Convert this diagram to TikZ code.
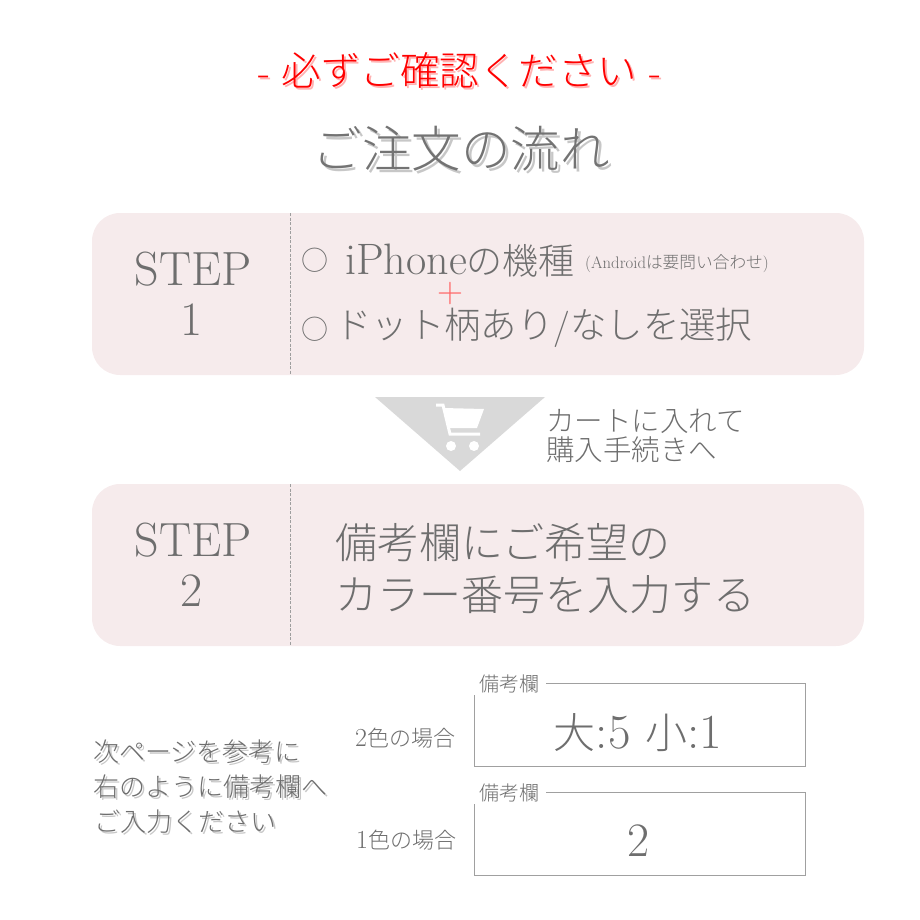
\documentclass[tikz,border=0pt]{standalone}
\usepackage{fontspec}
\newfontfamily\jp{Noto Sans CJK JP Light}
\definecolor{tx}{HTML}{6E6E6E}
\definecolor{pinkbox}{HTML}{F6EBEC}
\definecolor{tri}{HTML}{D9D9D9}
\definecolor{fr}{HTML}{A0A0A0}
\tikzset{
  fs/.style={font=\fontsize{#1}{#1}\selectfont},
  lab/.style={inner sep=0pt,text=tx},
  lft/.style={lab,anchor=west},
  shade2/.style={text=black!22},
  panel/.style={fill=pinkbox,rounded corners=28pt,minimum width=772pt,minimum height=162pt,inner sep=0pt},
  divider/.style={draw=black!38,dash pattern=on 3pt off 1.5pt,line width=.8pt},
  field/.style={draw=fr,line width=.9pt},
}
\newcommand\headline{{\rmfamily -}\hspace{11pt}{\jp 必ずご確認ください}\hspace{12pt}{\rmfamily -}}
\begin{document}
\begin{tikzpicture}[x=1pt,y=-1pt]
\useasboundingbox (0,0) rectangle (920,920);
% headings
\node[lab,fs=39.5,text=red!30] (h1s) at (462,72) {\headline};
\node[lab,fs=39.5,text=red] (h1) at (460,70) {\headline};
\node[lab,fs=49.5,shade2] (h2s) at (464,152) {\jp ご注文の流れ};
\node[lab,fs=49.5,text=black!55] (h2) at (461,149) {\jp ご注文の流れ};
% step 1
\node[panel] (p1) at (478,294) {};
\coordinate (d1a) at (290,213); \coordinate (d1b) at (290,375);
\draw[divider] (d1a) -- (d1b);
\node[lab,fs=48] (s1a) at (193,269) {STEP};
\node[lab,fs=48] (s1b) at (192,320) {1};
\node[lab,fs=27] (c1) at (315,260) {\jp ○};
\node[lft,fs=44] (t1) at (345,261) {iPhone{\fontsize{36}{36}\selectfont\jp の機種}};
\node[lft,fs=16.7] (t1b) at (585,264) {(Android{\jp は要問い合わせ})};
\node[lab,fs=36,text=red!60] (plus) at (450,294) {+};
\node[lab,fs=27] (c2) at (315,329) {\jp ○};
\node[lft,fs=36.4] (t2) at (335,328) {{\jp ドット柄あり}{\rmfamily /}{\jp なしを選択}};
% arrow
\fill[tri] (375,397) -- (545,397) -- (460,471) -- cycle;
\fill[white] (443,408) -- (484,409) -- (477,428) -- (449,428) -- cycle;
\draw[white,line width=3pt] (436,405) -- (443,405) -- (450,434) -- (480,434);
\fill[white] (451,446) circle (5) (474,446) circle (5);
\node[lft,fs=28.5] (a1) at (546,421) {\jp カートに入れて};
\node[lft,fs=28.5] (a2) at (546,450) {\jp 購入手続きへ};
% step 2
\node[panel] (p2) at (478,565) {};
\coordinate (d2a) at (290,484); \coordinate (d2b) at (290,645);
\draw[divider] (d2a) -- (d2b);
\node[lab,fs=48] (s2a) at (193,540) {STEP};
\node[lab,fs=48] (s2b) at (192,591) {2};
\node[lft,fs=42] (b1) at (335,543) {\jp 備考欄にご希望の};
\node[lft,fs=42] (b2) at (335,595) {\jp カラー番号を入力する};
% note
\node[lft,fs=26,shade2] (n1s) at (95,754) {\jp 次ページを参考に};
\node[lft,fs=26] (n1) at (93,752) {\jp 次ページを参考に};
\node[lft,fs=26,shade2] (n2s) at (95,789) {\jp 右のように備考欄へ};
\node[lft,fs=26] (n2) at (93,787) {\jp 右のように備考欄へ};
\node[lft,fs=26,shade2] (n3s) at (96,824) {\jp ご入力ください};
\node[lft,fs=26] (n3) at (94,822) {\jp ご入力ください};
\node[lft,fs=26] (l1) at (355,738) {2{\fontsize{22}{22}\selectfont\jp 色の場合}};
\node[lft,fs=26] (l2) at (356,840) {1{\fontsize{22}{22}\selectfont\jp 色の場合}};
% fields
\draw[field] (474,695) -- (474,766) -- (805,766) -- (805,683) -- (546,683);
\node[lft,fs=20] (f1) at (479,684) {\jp 備考欄};
\node[lab,fs=49] (v1) at (638,733) {{\fontsize{42}{42}\selectfont\jp 大}:5 {\fontsize{42}{42}\selectfont\jp 小}:1};
\draw[field] (474,804) -- (474,875) -- (805,875) -- (805,792) -- (546,792);
\node[lft,fs=20] (f2) at (479,793) {\jp 備考欄};
\node[lab,fs=48] (v2) at (639,841) {2};
\end{tikzpicture}
\end{document}
